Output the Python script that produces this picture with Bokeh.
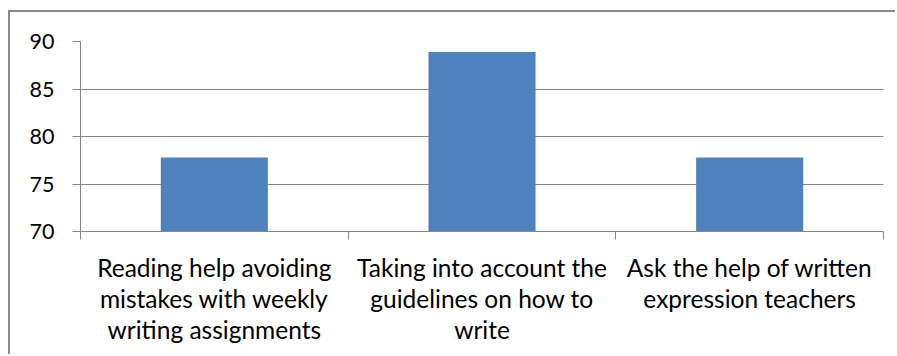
import numpy as np
from bokeh.plotting import figure
from bokeh.models import FixedTicker, Range1d
from bokeh.embed import file_html
from bokeh.resources import INLINE

# Survey answers (percent of respondents)
categories = [
    "Reading help avoiding\nmistakes with weekly\nwriting assignments",
    "Taking into account the\nguidelines on how to\nwrite",
    "Ask the help of written\nexpression teachers",
]
values = [77.8, 88.9, 77.8]
y_ticks = [70, 75, 80, 85, 90]

GRAY = "#868686"
BLUE = "#4F81BD"
FONT = "Lato"

n = len(categories)
x = np.arange(n) + 0.5

p = figure(
    width=887, height=344, margin=(10, 0, 0, 8),
    output_backend="svg", toolbar_location=None,
    x_range=Range1d(0, n), y_range=Range1d(y_ticks[0], y_ticks[-1]),
    min_border_left=70, min_border_right=14,
    min_border_top=29, min_border_bottom=125,
)
# chart area frame (left and top edges fall inside the window)
p.styles = {"border-left": "2px solid #8a8a8a", "border-top": "2px solid #8a8a8a"}
p.outline_line_color = None
p.background_fill_color = "white"
p.border_fill_color = "white"

p.vbar(x=x, top=values, bottom=y_ticks[0], width=0.4,
       fill_color=BLUE, line_color=None)

# y axis
p.yaxis.ticker = FixedTicker(ticks=y_ticks)
p.yaxis.axis_line_color = GRAY
p.yaxis.major_tick_line_color = GRAY
p.yaxis.major_tick_in = 0
p.yaxis.major_tick_out = 8
p.yaxis.minor_tick_line_color = None
p.yaxis.major_label_text_font = FONT
p.yaxis.major_label_text_font_size = "21.5px"
p.yaxis.major_label_text_color = "black"
p.yaxis.major_label_standoff = 18

# x axis: labels at bar centres, tick marks on category boundaries
p.xaxis.ticker = FixedTicker(ticks=list(x), minor_ticks=list(range(n + 1)))
p.xaxis.major_label_overrides = {float(v): c for v, c in zip(x, categories)}
p.xaxis.axis_line_color = GRAY
p.xaxis.major_tick_line_color = None
p.xaxis.major_tick_in = 0
p.xaxis.major_tick_out = 0
p.xaxis.minor_tick_line_color = GRAY
p.xaxis.minor_tick_in = 0
p.xaxis.minor_tick_out = 8
p.xaxis.major_label_text_font = FONT
p.xaxis.major_label_text_font_size = "24.5px"
p.xaxis.major_label_text_color = "black"
p.xaxis.major_label_text_line_height = 1.07
p.xaxis.major_label_standoff = 13

p.xgrid.grid_line_color = None
p.ygrid.grid_line_color = GRAY
p.ygrid.grid_line_width = 1

open("out.html", "w").write(file_html(p, INLINE))
